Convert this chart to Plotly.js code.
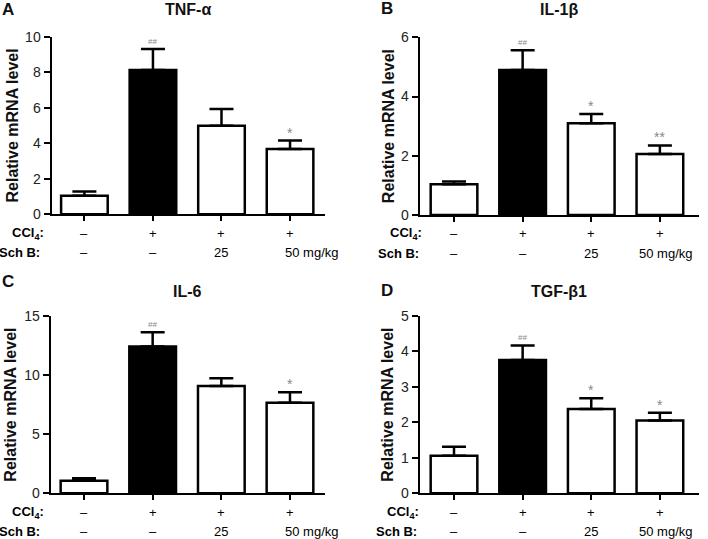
<!DOCTYPE html>
<html>
<head>
<meta charset="utf-8">
<script src="https://cdn.plot.ly/plotly-3.0.1.min.js"></script>
<style>html,body{margin:0;padding:0;background:#fff;}#chart{width:708px;height:539px;}</style>
</head>
<body>
<div id="chart"></div>
<script>
// ---- data ----
const groups = ['Control', 'CCl4', 'CCl4 + Sch B 25', 'CCl4 + Sch B 50'];
const barFill = ['white', 'black', 'white', 'white'];

const tnfMean = [1.04, 8.12, 4.99, 3.68];
const tnfErr  = [0.24, 1.19, 0.94, 0.47];
const tnfSig  = ['', '##', '', '*'];

const il1bMean = [1.04, 4.90, 3.10, 2.06];
const il1bErr  = [0.09, 0.66, 0.31, 0.29];
const il1bSig  = ['', '##', '*', '**'];

const il6Mean = [1.07, 12.43, 9.08, 7.67];
const il6Err  = [0.20, 1.19, 0.65, 0.87];
const il6Sig  = ['', '##', '', '*'];

const tgfMean = [1.06, 3.76, 2.38, 2.05];
const tgfErr  = [0.25, 0.41, 0.30, 0.22];
const tgfSig  = ['', '##', '*', '*'];

const cclRow = ['–', '+', '+', '+'];
const schRow = ['–', '–', '25', '50 mg/kg'];

const panelTitles = ['TNF-α', 'IL-1β', 'IL-6', 'TGF-β1'];
const panelLetters = ['A', 'B', 'C', 'D'];
const yTitle = 'Relative mRNA level';

// ---- layout helpers ----
const W = 708, H = 539;
const px = v => v / W;
const py = v => 1 - v / H;
const FONT = '"Liberation Sans", Arial, sans-serif';

const panels = [
  {mean: tnfMean, err: tnfErr, sig: tnfSig, xd: [51.5, 325], yd: [214.3, 36.7], yr: [0, 10], dt: 2, xr: [-0.48, 3.51],
   letter: [0, 10], title: 10, ytx: 12, cclX: 46, schX: 42, lastShift: -7},
  {mean: il1bMean, err: il1bErr, sig: il1bSig, xd: [419.7, 699], yd: [215, 37.3], yr: [0, 6], dt: 2, xr: [-0.5, 3.57],
   letter: [379, 9], title: 10, ytx: 388, cclX: 424, schX: 421, lastShift: -23},
  {mean: il6Mean, err: il6Err, sig: il6Sig, xd: [50.7, 325], yd: [493.3, 316], yr: [0, 15], dt: 5, xr: [-0.485, 3.51],
   letter: [0, 281], title: 291, ytx: 11, cclX: 46, schX: 42, lastShift: -7},
  {mean: tgfMean, err: tgfErr, sig: tgfSig, xd: [419.7, 699], yd: [493.3, 316], yr: [0, 5], dt: 1, xr: [-0.5, 3.57],
   letter: [379, 290], title: 291, ytx: 388, cclX: 421, schX: 419, lastShift: -23}
];

const data = [];
const annotations = [];
const layout = {
  width: W, height: H,
  margin: {l: 0, r: 0, t: 0, b: 0},
  paper_bgcolor: 'white', plot_bgcolor: 'white',
  showlegend: false,
  font: {family: FONT, color: '#111'},
  annotations: annotations
};

panels.forEach((p, i) => {
  const n = i === 0 ? '' : String(i + 1);
  const xa = 'x' + n, ya = 'y' + n;
  data.push({
    type: 'bar', x: groups, y: p.mean, xaxis: xa, yaxis: ya, width: 0.68,
    marker: {color: barFill, line: {color: 'black', width: 2.5}},
    error_y: {type: 'data', symmetric: false, array: p.err, arrayminus: p.err.map(() => 0),
              color: 'black', thickness: 2.5, width: 12},
    hoverinfo: 'skip'
  });
  layout['xaxis' + n] = {
    domain: [px(p.xd[0]), px(p.xd[1])], anchor: ya, type: 'category', categoryarray: groups,
    range: p.xr, showline: true, linecolor: 'black', linewidth: 2, ticks: 'outside',
    ticklen: 5, tickwidth: 2, tickcolor: 'black', showticklabels: false, showgrid: false, zeroline: false,
    fixedrange: true
  };
  layout['yaxis' + n] = {
    domain: [py(p.yd[0]), py(p.yd[1])], anchor: xa, range: p.yr, dtick: p.dt, tick0: 0,
    showline: true, linecolor: 'black', linewidth: 2, ticks: 'outside', ticklen: 6, tickwidth: 2,
    tickcolor: 'black', tickfont: {family: FONT, size: 14, color: '#222'}, showgrid: false, zeroline: false,
    fixedrange: true
  };
  // significance marks
  groups.forEach((g, k) => {
    if (!p.sig[k]) return;
    const dbl = p.sig[k] === '##';
    annotations.push({
      xref: xa, yref: ya, x: g, y: p.mean[k] + p.err[k], text: p.sig[k], showarrow: false,
      yanchor: 'bottom', yshift: dbl ? 1 : -2,
      font: {family: FONT, size: dbl ? 8 : 14, color: '#888'}
    });
  });
  // rows under x axis
  const rowY1 = p.yd[0] + 18.7, rowY2 = p.yd[0] + 38.5;
  groups.forEach((g, k) => {
    annotations.push({xref: xa, yref: 'paper', x: g, y: py(rowY1), text: cclRow[k], showarrow: false,
      yanchor: 'middle', font: {family: FONT, size: 13, color: '#000'}});
    const last = k === groups.length - 1;
    annotations.push({xref: xa, yref: 'paper', x: g, y: py(rowY2), text: schRow[k], showarrow: false,
      yanchor: 'middle', xanchor: last ? 'left' : 'center', xshift: last ? p.lastShift : 0,
      font: {family: FONT, size: 13, color: '#000'}});
  });
  annotations.push({xref: 'paper', yref: 'paper', x: px(p.cclX), y: py(rowY1), xanchor: 'right', yanchor: 'middle',
    text: '<b>CCl<sub>4</sub>:</b>', showarrow: false, font: {family: FONT, size: 13, color: '#000'}});
  annotations.push({xref: 'paper', yref: 'paper', x: px(p.schX), y: py(rowY2), xanchor: 'right', yanchor: 'middle',
    text: '<b>Sch B:</b>', showarrow: false, font: {family: FONT, size: 13, color: '#000'}});
  // panel title
  annotations.push({xref: 'paper', yref: 'paper', x: px((p.xd[0] + p.xd[1]) / 2), y: py(p.title),
    xanchor: 'center', yanchor: 'middle', text: '<b>' + panelTitles[i] + '</b>', showarrow: false,
    font: {family: FONT, size: 16, color: '#111'}});
  // panel letter
  annotations.push({xref: 'paper', yref: 'paper', x: px(p.letter[0]), y: py(p.letter[1]),
    xanchor: 'left', yanchor: 'middle', text: '<b>' + panelLetters[i] + '</b>', showarrow: false,
    font: {family: FONT, size: 17, color: '#111'}});
  // y title
  annotations.push({xref: 'paper', yref: 'paper', x: px(p.ytx), y: py((p.yd[0] + p.yd[1]) / 2),
    xanchor: 'center', yanchor: 'middle', textangle: -90, text: '<b>' + yTitle + '</b>', showarrow: false,
    font: {family: FONT, size: 16, color: '#111'}});
});

Plotly.newPlot('chart', data, layout, {displayModeBar: false, staticPlot: true});
</script>
</body>
</html>
